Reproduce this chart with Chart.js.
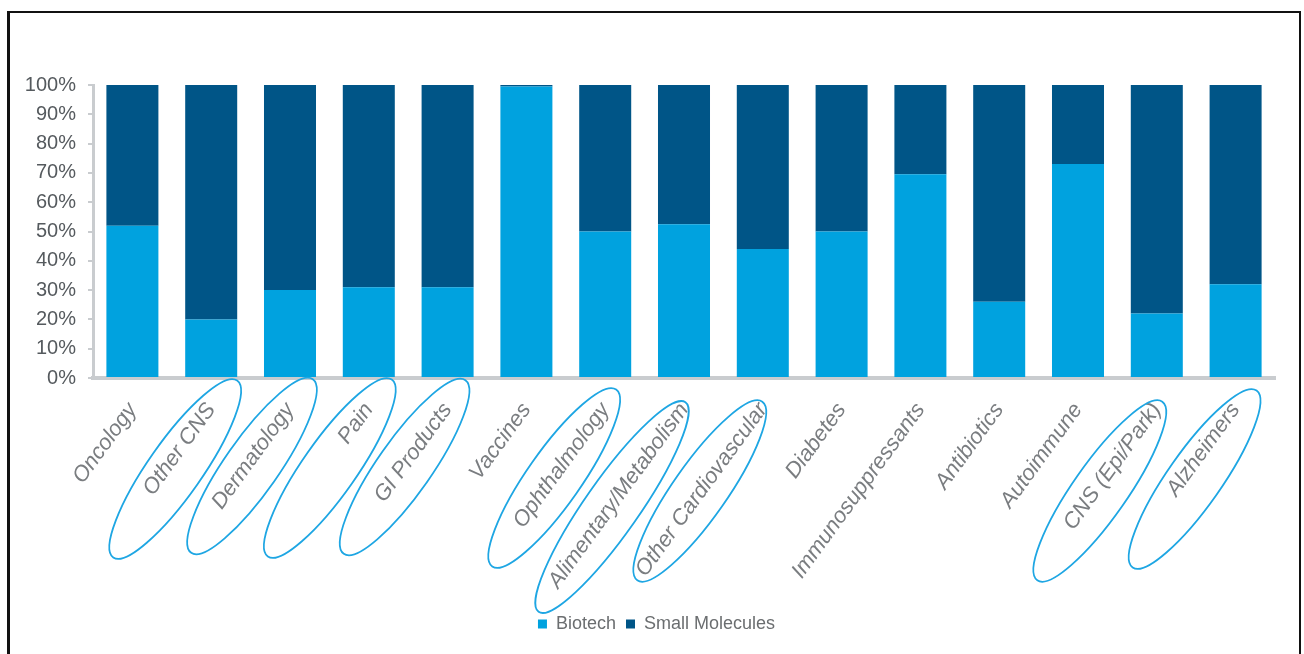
<!DOCTYPE html>
<html>
<head>
<meta charset="utf-8">
<script src="https://cdn.jsdelivr.net/npm/chart.js@4.4.1/dist/chart.umd.min.js"></script>
<style>
    body { margin: 0; background: #fff; }
    #wrap { position: relative; width: 1304px; height: 654px; overflow: hidden; }
    #frame {
        position: absolute; left: 7px; top: 11px; width: 1294px; height: 700px;
        border: 2px solid #111; border-left-width: 3px; box-sizing: border-box;
        pointer-events: none;
    }
</style>
</head>
<body>
<div id="wrap">
    <canvas id="share-chart" width="1304" height="654"></canvas>
    <div id="frame"></div>
</div>
<script>
const categories = ['Oncology', 'Other CNS', 'Dermatology', 'Pain', 'GI Products', 'Vaccines',
    'Ophthalmology', 'Alimentary/Metabolism', 'Other Cardiovascular', 'Diabetes',
    'Immunosuppressants', 'Antibiotics', 'Autoimmune', 'CNS (Epi/Park)', 'Alzheimers'];

// share of each therapy area, in percent
const biotech = [52, 20, 30, 31, 31, 99.5, 50, 52.5, 44, 50, 69.5, 26, 73, 22, 32];
const smallMolecules = [48, 80, 70, 69, 69, 0.5, 50, 47.5, 56, 50, 30.5, 74, 27, 78, 68];

// labels that are ringed in the picture
const circled = ['Other CNS', 'Dermatology', 'Pain', 'GI Products', 'Ophthalmology',
    'Alimentary/Metabolism', 'Other Cardiovascular', 'CNS (Epi/Park)', 'Alzheimers'];

const font = '"Liberation Sans", Arial, sans-serif';

// ring offsets from each tick (dx, dy, half length)
const rings = {
    'Other CNS': [-36, 91, 108],
    'Dermatology': [-38, 88, 106],
    'Pain': [-39, 90, 108],
    'GI Products': [-43, 89, 106],
    'Ophthalmology': [-51, 100, 108],
    'Alimentary/Metabolism': [-72, 129, 128],
    'Other Cardiovascular': [-63, 113, 109],
    'CNS (Epi/Park)': [-57, 113, 109],
    'Alzheimers': [-41, 101, 108]
};

const ringPlugin = {
    id: 'rings',
    afterLayout(chart) {
        // legend sits a bit right of the canvas centre in the original
        chart.legend.left += 19;
        chart.legend.right += 19;
    },
    afterDraw(chart) {
        const ctx = chart.ctx;
        const x = chart.scales.x;
        ctx.save();
        ctx.strokeStyle = '#1ea6e3';
        ctx.lineWidth = 1.8;
        circled.forEach(name => {
            const i = categories.indexOf(name);
            const r = rings[name];
            ctx.beginPath();
            ctx.ellipse(x.getPixelForValue(i) + r[0], x.top + r[1], r[2], 27, -55 * Math.PI / 180, 0, Math.PI * 2);
            ctx.stroke();
        });
        ctx.restore();
    }
};

new Chart(document.querySelector('#share-chart').getContext('2d'), {
    type: 'bar',
    data: {
        labels: categories,
        datasets: [{
            label: 'Biotech',
            data: biotech,
            backgroundColor: '#00a2df'
        }, {
            label: 'Small Molecules',
            data: smallMolecules,
            backgroundColor: '#005587'
        }]
    },
    options: {
        responsive: false,
        animation: false,
        barPercentage: 0.66,
        categoryPercentage: 1,
        layout: { padding: { left: 0, top: 85, right: 29, bottom: 11 } },
        plugins: {
            tooltip: { enabled: false },
            legend: {
                position: 'bottom',
                labels: {
                    boxWidth: 9,
                    boxHeight: 9,
                    padding: 10,
                    color: '#6b6e70',
                    font: { family: font, size: 18 }
                }
            }
        },
        scales: {
            x: {
                stacked: true,
                grid: { display: false },
                border: { color: '#c9cccf', width: 4 },
                afterFit: scale => { scale.height = 227; },
                ticks: {
                    autoSkip: false,
                    maxRotation: 54,
                    minRotation: 54,
                    padding: 12,
                    color: '#7a7d80',
                    font: { family: font, size: 22, style: 'italic' }
                }
            },
            y: {
                stacked: true,
                min: 0,
                max: 100,
                afterFit: scale => { scale.width = 93; },
                grid: { drawOnChartArea: false, drawTicks: true, tickLength: 5, color: '#c9cccf', lineWidth: 2 },
                border: { color: '#c9cccf', width: 3 },
                ticks: {
                    stepSize: 10,
                    padding: 12,
                    color: '#555a5e',
                    font: { family: font, size: 20 },
                    callback: value => value + '%'
                }
            }
        }
    },
    plugins: [ringPlugin]
});
</script>
</body>
</html>
